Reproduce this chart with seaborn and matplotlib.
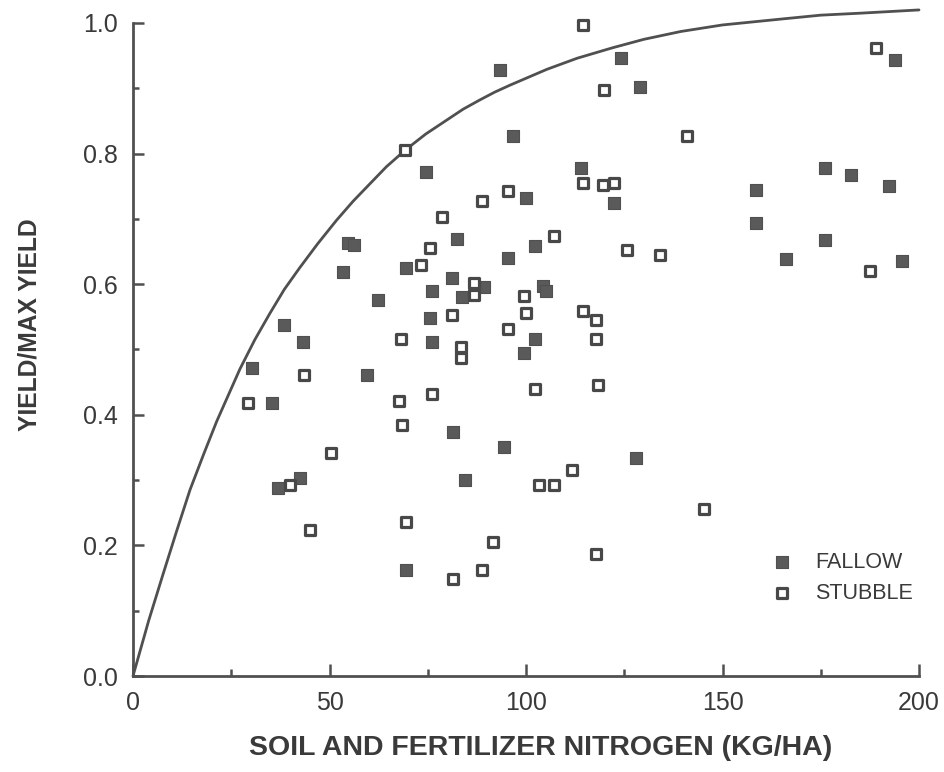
import matplotlib
matplotlib.use("Agg")
import matplotlib.pyplot as plt
import seaborn as sns
import pandas as pd
from matplotlib.ticker import MultipleLocator

# ---- data ----
fallow_n = [30.2, 35.3, 36.8, 38.4, 42.4, 43.2, 53.4, 54.6, 56.2, 59.5, 62.3, 69.4, 69.4, 74.6,
            76.0, 75.5, 76.0, 81.1, 82.4, 81.3, 83.7, 84.4, 89.3, 93.3, 94.3, 95.3, 96.7, 100.1,
            99.6, 102.3, 102.2, 104.2, 105.2, 114.1, 122.5, 124.3, 128.1, 129.1, 158.6, 158.6,
            166.2, 176.1, 176.1, 182.7, 192.4, 193.9, 195.7]
fallow_y = [0.472, 0.418, 0.288, 0.538, 0.303, 0.511, 0.619, 0.663, 0.660, 0.461, 0.576, 0.162,
            0.625, 0.772, 0.590, 0.548, 0.511, 0.609, 0.669, 0.374, 0.580, 0.300, 0.596, 0.928,
            0.351, 0.640, 0.827, 0.732, 0.495, 0.658, 0.516, 0.597, 0.590, 0.778, 0.724, 0.946,
            0.334, 0.902, 0.744, 0.694, 0.639, 0.778, 0.668, 0.767, 0.750, 0.943, 0.636]

stubble_n = [29.2, 40.0, 43.5, 45.0, 50.3, 69.1, 68.1, 67.6, 68.4, 69.4, 73.4, 75.5, 76.2, 78.5,
             81.1, 81.3, 83.4, 83.4, 86.8, 86.8, 88.8, 88.7, 91.5, 95.4, 95.3, 99.4, 100.1, 102.2,
             103.4, 107.2, 107.0, 111.8, 114.6, 114.6, 114.5, 117.8, 117.8, 118.3, 117.8, 119.9,
             119.7, 122.5, 125.8, 141.0, 134.2, 145.4, 187.5, 189.1]
stubble_y = [0.418, 0.293, 0.461, 0.224, 0.341, 0.805, 0.516, 0.421, 0.384, 0.236, 0.629, 0.655,
             0.432, 0.703, 0.553, 0.149, 0.504, 0.487, 0.602, 0.583, 0.727, 0.162, 0.205, 0.743,
             0.531, 0.582, 0.556, 0.440, 0.293, 0.293, 0.674, 0.315, 0.997, 0.755, 0.559, 0.545,
             0.516, 0.446, 0.187, 0.897, 0.752, 0.755, 0.652, 0.827, 0.645, 0.256, 0.620, 0.962]

# response curve, points
curve_n = [0, 4, 7.6, 11, 14.5, 18, 21.3, 27.2, 31, 34.8, 38.5, 42.4, 47, 51.8, 56, 60, 64.5,
           69.4, 74.5, 80, 84, 88.2, 92, 96, 105.3, 113, 122, 130, 139.4, 150, 164.9, 175, 185, 200]
curve_y = [0, 0.085, 0.155, 0.22, 0.285, 0.34, 0.39, 0.47, 0.515, 0.555, 0.592, 0.625, 0.662,
           0.698, 0.727, 0.752, 0.78, 0.806, 0.83, 0.852, 0.868, 0.882, 0.894, 0.905, 0.929,
           0.946, 0.962, 0.975, 0.987, 0.997, 1.006, 1.012, 1.015, 1.02]

x_label = "SOIL AND FERTILIZER NITROGEN (KG/HA)"
y_label = "YIELD/MAX YIELD"
legend_labels = ["FALLOW", "STUBBLE"]

# ---- style ----
sns.set_theme(style="ticks")
plt.rcParams["font.family"] = ["Liberation Sans", "DejaVu Sans"]
GREY = "#505050"
TXT = "#3a3a3a"

fig = plt.figure(figsize=(9.44, 7.72), dpi=100)
ax = fig.add_axes([133 / 944, (772 - 676) / 772, (919 - 133) / 944, (676 - 3.4) / 772])

curve_df = pd.DataFrame({"n": curve_n, "y": curve_y})
sns.lineplot(data=curve_df, x="n", y="y", ax=ax, color=GREY, linewidth=2.0,
             sort=False, estimator=None, clip_on=False)

fallow_df = pd.DataFrame({"n": fallow_n, "y": fallow_y})
stubble_df = pd.DataFrame({"n": stubble_n, "y": stubble_y})
sns.scatterplot(data=fallow_df, x="n", y="y", ax=ax, marker="s", s=80,
                color="#5a5a5a", edgecolor="#505050", linewidth=0.8,
                label=legend_labels[0], clip_on=False, zorder=3)
sns.scatterplot(data=stubble_df, x="n", y="y", ax=ax, marker="s", s=50,
                facecolor="white", edgecolor="#484848", linewidth=2.3,
                label=legend_labels[1], clip_on=False, zorder=3)

ax.set_xlim(0, 200)
ax.set_ylim(0, 1.03)
sns.despine(ax=ax)
ax.spines["left"].set_bounds(0, 1.0)
for sp in ("left", "bottom"):
    ax.spines[sp].set_color(GREY)
    ax.spines[sp].set_linewidth(2.0)

ax.xaxis.set_major_locator(MultipleLocator(50))
ax.xaxis.set_minor_locator(MultipleLocator(25))
ax.yaxis.set_minor_locator(MultipleLocator(0.1))
ax.set_yticks([0, 0.2, 0.4, 0.6, 0.8, 1.0])
ax.set_yticklabels(["0.0", "0.2", "0.4", "0.6", "0.8", "1.0"])
ax.tick_params(which="both", direction="in", color=GREY, width=1.8, labelcolor=TXT,
               labelsize=18)
ax.tick_params(axis="x", which="major", length=9, pad=11)
ax.tick_params(axis="x", which="minor", length=5)
ax.tick_params(axis="y", which="major", length=8, pad=11)
ax.tick_params(axis="y", which="minor", length=4)

ax.set_xlabel(x_label, fontsize=20.5, fontweight="bold", color=TXT)
ax.set_ylabel(y_label, fontsize=17.7, fontweight="bold", color=TXT)
ax.xaxis.set_label_coords((541 - 133) / 786, -(748 - 676) / 672.6)
ax.yaxis.set_label_coords(-(133 - 30) / 786, (676 - 325) / 672.6)
ax.xaxis.label.set_va("center")
ax.yaxis.label.set_va("center")

leg = ax.legend(loc="center left", bbox_to_anchor=(0.812, 0.146), frameon=False,
                fontsize=15.5, handlelength=1.0, handletextpad=1.05, borderpad=0,
                borderaxespad=0, labelspacing=0.45)
for t in leg.get_texts():
    t.set_color(TXT)

ax.set_facecolor("white")
fig.patch.set_facecolor("white")
fig.savefig("out.png", dpi=100)
